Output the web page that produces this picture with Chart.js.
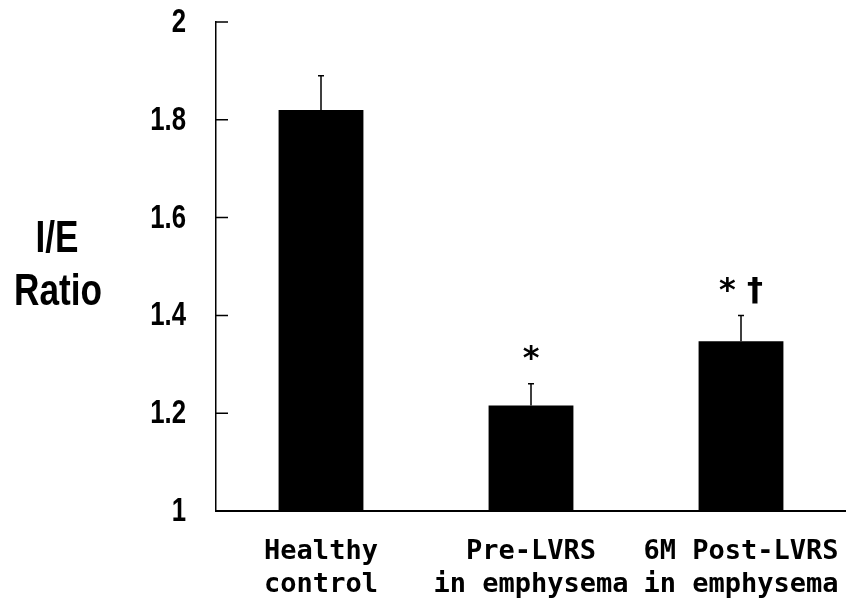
<!DOCTYPE html>
<html lang="en">
<head>
<meta charset="UTF-8">
<title>I/E Ratio</title>
<script src="https://cdn.jsdelivr.net/npm/chart.js"></script>
<style>
    html, body { margin: 0; padding: 0; background: #fff; }
    .chart-container { position: relative; width: 846px; height: 612px; }
</style>
</head>
<body>
<div class="chart-container"><canvas id="ieChart"></canvas></div>
<script>
    // values
    const groups = [['Healthy', 'control'], ['Pre-LVRS', 'in emphysema'], ['6M Post-LVRS', 'in emphysema']];
    const ieRatio = [1.82, 1.216, 1.347];
    const ieError = [0.07, 0.044, 0.053];
    const sigMarks = ['', '*', '* \u2020'];
    const yTicks = [1, 1.2, 1.4, 1.6, 1.8, 2];
    const yTickLabels = ['1', '1.2', '1.4', '1.6', '1.8', '2'];
    const yTitle = ['I/E', 'Ratio'];

    const sans = "'Liberation Sans', Arial, sans-serif";
    const mono = "'DejaVu Sans Mono', 'Liberation Mono', monospace";

    // squeezed text helper, the original uses a tall narrow gothic face
    function narrowText(ctx, text, px, py, sx) {
        ctx.save();
        ctx.translate(px, py);
        ctx.scale(sx, 1);
        ctx.fillText(text, 0, 0);
        ctx.restore();
    }

    // error bars, inward y ticks, y labels, significance marks, horizontal y title
    const extras = {
        id: 'extras',
        afterDatasetsDraw(chart) {
            const { ctx, scales: { x, y } } = chart;
            const meta = chart.getDatasetMeta(0);
            ctx.save();
            ctx.strokeStyle = '#000';
            ctx.fillStyle = '#000';
            ctx.lineWidth = 1.5;
            meta.data.forEach((bar, i) => {
                const top = y.getPixelForValue(ieRatio[i] + ieError[i]);
                ctx.beginPath();
                ctx.moveTo(bar.x, bar.y);
                ctx.lineTo(bar.x, top);
                ctx.moveTo(bar.x - 3, top);
                ctx.lineTo(bar.x + 3, top);
                ctx.stroke();
                if (sigMarks[i]) {
                    ctx.font = 'bold 32px DejaVu Sans, sans-serif';
                    ctx.textAlign = 'center';
                    ctx.textBaseline = 'middle';
                    ctx.fillText(sigMarks[i], bar.x, top - 24);
                }
            });

            // short ticks pointing into the plot
            ctx.beginPath();
            yTicks.forEach(v => {
                const py = y.getPixelForValue(v);
                ctx.moveTo(x.left, py);
                ctx.lineTo(x.left + 12, py);
            });
            ctx.stroke();

            ctx.font = 'bold 33px ' + sans;
            ctx.textAlign = 'right';
            ctx.textBaseline = 'middle';
            yTicks.forEach((v, i) => {
                narrowText(ctx, yTickLabels[i], x.left - 30, y.getPixelForValue(v) + 1, 0.78);
            });

            ctx.font = 'bold 44px ' + sans;
            ctx.textAlign = 'center';
            narrowText(ctx, yTitle[0], 57, 240, 0.8);
            narrowText(ctx, yTitle[1], 58, 293, 0.8);
            ctx.restore();
        }
    };

    const ctx = document.getElementById('ieChart').getContext('2d');
    new Chart(ctx, {
        type: 'bar',
        data: {
            labels: groups,
            datasets: [{
                data: ieRatio,
                backgroundColor: '#000',
                borderWidth: 0,
                barPercentage: 0.404,
                categoryPercentage: 1
            }]
        },
        options: {
            responsive: true,
            maintainAspectRatio: false,
            animation: false,
            layout: { padding: { top: 22, right: 0, left: 0, bottom: 0 } },
            plugins: {
                legend: { display: false },
                tooltip: { enabled: false }
            },
            scales: {
                x: {
                    grid: { display: false, drawTicks: false },
                    border: { display: true, color: '#000', width: 2 },
                    ticks: {
                        color: '#000',
                        padding: 24,
                        maxRotation: 0,
                        autoSkip: false,
                        font: { family: mono, size: 27, weight: 'bold', lineHeight: 33 / 27 }
                    },
                    afterFit(scale) {
                        scale.height = 101;
                        scale.paddingLeft = 0;
                        scale.paddingRight = 0;
                    }
                },
                y: {
                    min: 1,
                    max: 2,
                    afterBuildTicks(scale) { scale.ticks = yTicks.map(v => ({ value: v })); },
                    grid: { display: false, drawTicks: false },
                    border: { display: true, color: '#000', width: 1.5 },
                    ticks: { display: false },
                    afterFit(scale) { scale.width = 216; }
                }
            }
        },
        plugins: [extras]
    });
</script>
</body>
</html>
